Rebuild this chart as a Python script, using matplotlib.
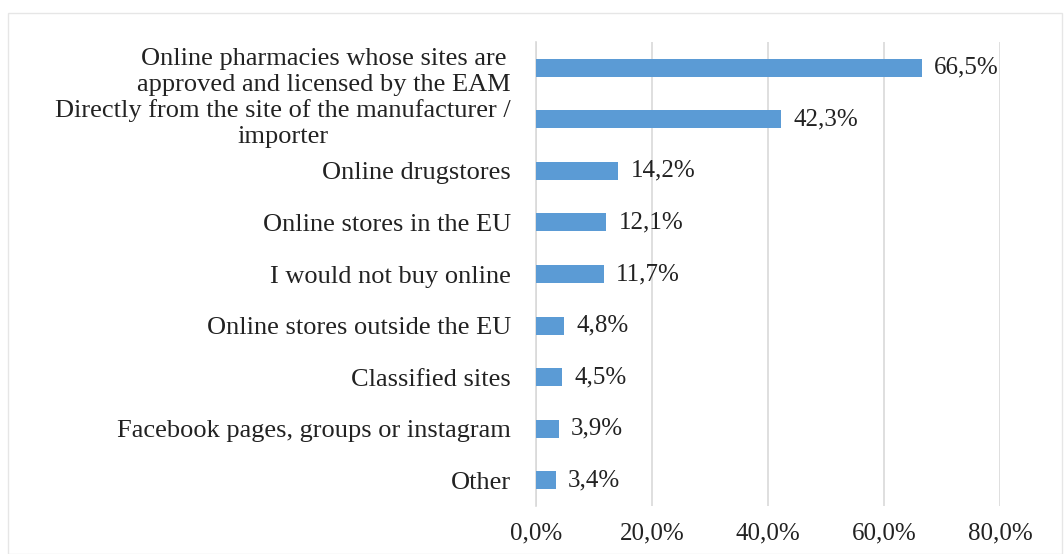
import matplotlib.pyplot as plt
from matplotlib.patches import Rectangle

categories = [
    "Online pharmacies whose sites are\napproved and licensed by the EAM",
    "Directly from the site of the manufacturer /\nimporter",
    "Online drugstores",
    "Online stores in the EU",
    "I would not buy online",
    "Online stores outside the EU",
    "Classified sites",
    "Facebook pages, groups or instagram",
    "Other",
]
values = [66.5, 42.3, 14.2, 12.1, 11.7, 4.8, 4.5, 3.9, 3.4]
xticks = [0, 20, 40, 60, 80]

plt.rcParams['font.family'] = ['Liberation Serif', 'DejaVu Serif']
fs = 18

fig = plt.figure(figsize=(10.64, 5.54), dpi=100)
ax = fig.add_axes([536 / 1064, 48 / 554, 464 / 1064, 464 / 554])

pos = list(range(len(categories)))
ax.barh(pos, values, height=0.35, color='#5B9BD5', zorder=3)
for p, v in zip(pos, values):
    ax.text(v + 2.1, p, f"{v:.1f}%".replace('.', ','), va='center', ha='left',
            fontsize=fs, color='#222222')

ax.set_ylim(len(categories) - 0.5, -0.5)
ax.set_yticks(pos)
ax.set_yticklabels(categories, fontsize=19, color='#222222')
for lab in ax.get_yticklabels():
    lab.set_multialignment('center')
    lab.set_linespacing(1.2)
ax.set_xlim(0, 80)
ax.set_xticks(xticks)
ax.set_xticklabels([f"{t:.1f}%".replace('.', ',') for t in xticks],
                   fontsize=fs, color='#222222')
ax.tick_params(axis='both', length=0)
ax.tick_params(axis='y', pad=18)
ax.tick_params(axis='x', pad=12)
ax.grid(axis='x', color='#d9d9d9', linewidth=1.2, zorder=0)
for s in ['top', 'right', 'bottom']:
    ax.spines[s].set_visible(False)
ax.spines['left'].set_color('#d9d9d9')
ax.spines['left'].set_linewidth(1.2)

fig.patches.append(Rectangle((8 / 1064, 0.0), 1054 / 1064, 1 - 13 / 554,
                             transform=fig.transFigure, fill=False,
                             edgecolor='#e6e6e6', linewidth=1.0))

fig.savefig('out.png', dpi=100)
